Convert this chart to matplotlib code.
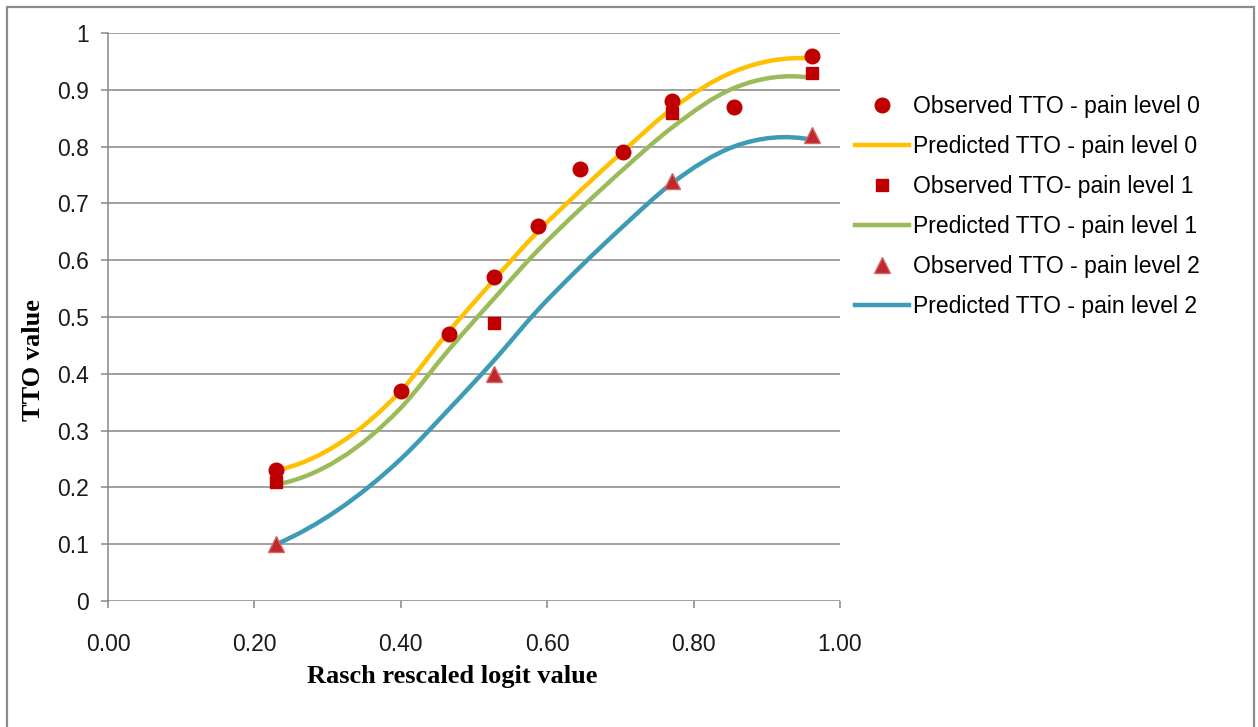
import numpy as np
import matplotlib
matplotlib.use("Agg")
import matplotlib.pyplot as plt
from matplotlib.path import Path
from matplotlib.patches import PathPatch, Rectangle
from matplotlib.lines import Line2D

plt.rcParams['font.family'] = ['Liberation Sans', 'DejaVu Sans']

# observed TTO values
x_obs0 = [0.23, 0.40, 0.466, 0.527, 0.587, 0.645, 0.704, 0.77, 0.855, 0.962]
y_obs0 = [0.23, 0.37, 0.47, 0.57, 0.66, 0.76, 0.79, 0.88, 0.87, 0.96]
x_obs1 = [0.23, 0.527, 0.77, 0.962]
y_obs1 = [0.21, 0.49, 0.86, 0.93]
x_obs2 = [0.23, 0.527, 0.77, 0.962]
y_obs2 = [0.10, 0.40, 0.74, 0.82]

# predicted TTO values
x_pred = [0.23, 0.40, 0.466, 0.527, 0.587, 0.645, 0.704, 0.77, 0.855, 0.962]
y_pred0 = [0.230, 0.370, 0.475, 0.565, 0.650, 0.722, 0.792, 0.866, 0.932, 0.955]
y_pred1 = [0.205, 0.340, 0.443, 0.532, 0.617, 0.690, 0.760, 0.833, 0.903, 0.921]
y_pred2 = [0.100, 0.250, 0.338, 0.423, 0.512, 0.588, 0.660, 0.735, 0.800, 0.812]

labels = ["Observed TTO - pain level 0", "Predicted TTO - pain level 0",
          "Observed TTO- pain level 1", "Predicted TTO - pain level 1",
          "Observed TTO - pain level 2", "Predicted TTO - pain level 2"]

c_obs = "#C00000"
c_tri = "#C0282B"
c0 = "#FFC000"
c1 = "#9BBB59"
c2 = "#3D9BB6"


def smooth_line(ax, xs, ys, color):
    # smoothed line like excel: one bezier segment between each pair of points
    x = np.asarray(xs, float)
    y = np.asarray(ys, float)
    h = np.diff(x)
    d = np.diff(y) / h
    m = np.empty_like(y)
    m[1:-1] = (d[:-1] * h[1:] + d[1:] * h[:-1]) / (h[:-1] + h[1:])
    m[0] = 2 * d[0] - m[1]
    m[-1] = 2 * d[-1] - m[-2]
    verts = [(x[0], y[0])]
    codes = [Path.MOVETO]
    for i in range(len(x) - 1):
        verts.append((x[i] + h[i] / 3, y[i] + m[i] * h[i] / 3))
        verts.append((x[i + 1] - h[i] / 3, y[i + 1] - m[i + 1] * h[i] / 3))
        verts.append((x[i + 1], y[i + 1]))
        codes += [Path.CURVE4] * 3
    ax.add_patch(PathPatch(Path(verts, codes), facecolor="none",
                           edgecolor=color, lw=3.2, capstyle="round", zorder=3))


fig = plt.figure(figsize=(12.58, 7.27), dpi=100)
fig.patches.append(Rectangle((7 / 1258, -0.01), 1247 / 1258, 1 - 7 / 727 + 0.01,
                             transform=fig.transFigure, fill=False,
                             edgecolor="#8C8C8C", lw=1.6))

ax = fig.add_axes([108 / 1258, 1 - 601 / 727, 732 / 1258, 568 / 727])

smooth_line(ax, x_pred, y_pred0, c0)
smooth_line(ax, x_pred, y_pred1, c1)
smooth_line(ax, x_pred, y_pred2, c2)

ax.plot(x_obs0, y_obs0, "o", color=c_obs, ms=10.5, mec=c_obs, zorder=4)
ax.plot(x_obs1, y_obs1, "s", color=c_obs, ms=8.5, mec=c_obs, zorder=4)
ax.plot(x_obs2, y_obs2, "^", color=c_tri, ms=11, mec="#D06A6A", mew=1, zorder=4)

ax.set_xlim(0, 1)
ax.set_ylim(0, 1)
ax.set_xticks(np.arange(0, 1.01, 0.2))
ax.set_xticklabels(["%.2f" % v for v in np.arange(0, 1.01, 0.2)])
ax.set_yticks(np.arange(0, 1.01, 0.1))
ax.set_yticklabels(["0"] + ["%.1f" % v for v in np.arange(0.1, 0.95, 0.1)] + ["1"])
ax.grid(axis="y", color="#868686", lw=1.1)
ax.set_axisbelow(True)
for s in ["top", "right", "bottom"]:
    ax.spines[s].set_visible(False)
ax.spines["left"].set_color("#868686")
ax.spines["left"].set_linewidth(1.1)
ax.tick_params(axis="y", length=5, width=1.1, color="#868686", pad=9,
               labelsize=16.5, labelcolor="#1a1a1a")
ax.tick_params(axis="x", length=5, width=1.1, color="#868686", pad=18,
               labelsize=16.5, labelcolor="#1a1a1a")

fig.text(452 / 1258, 1 - 676 / 727, "Rasch rescaled logit value", ha="center",
         va="center", family="Liberation Serif", weight="bold", fontsize=19)
fig.text(34 / 1258, 1 - 360 / 727, "TTO value", ha="center", va="center",
         rotation=90, family="Liberation Serif", weight="bold", fontsize=19)

handles = [
    Line2D([], [], ls="none", marker="o", color=c_obs, ms=10.5),
    Line2D([], [], color=c0, lw=3.2),
    Line2D([], [], ls="none", marker="s", color=c_obs, ms=8.5),
    Line2D([], [], color=c1, lw=3.2),
    Line2D([], [], ls="none", marker="^", color=c_tri, mec="#D06A6A", ms=11),
    Line2D([], [], color=c2, lw=3.2),
]
fig.legend(handles, labels, loc="upper left",
           bbox_to_anchor=(855 / 1258, 1 - 95 / 727), frameon=False,
           fontsize=16.5, handlelength=2.35, handletextpad=0.2,
           labelspacing=0.74, borderpad=0, borderaxespad=0)

fig.savefig("out.png", dpi=100)
